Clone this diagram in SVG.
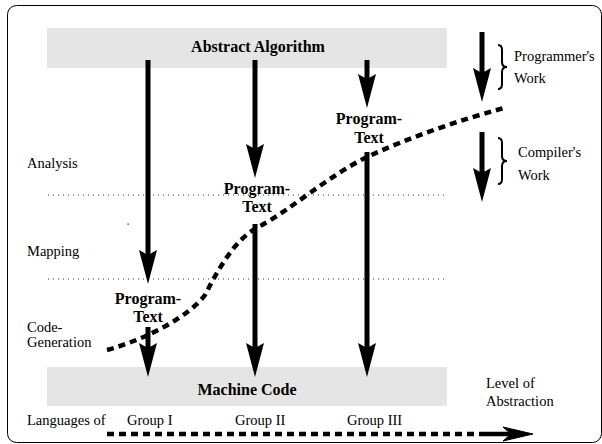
<svg xmlns="http://www.w3.org/2000/svg" width="602" height="444" viewBox="0 0 602 444">
<style>
.lbl{font-family:'Liberation Serif','Times New Roman',Tinos,'DejaVu Serif',serif;font-size:14.5px;fill:#000}
.bold{font-family:'Liberation Serif','Times New Roman',Tinos,'DejaVu Serif',serif;font-size:16px;font-weight:bold;fill:#000;text-anchor:middle}
.shaft{stroke:#000;stroke-width:5;fill:none}
.dots{stroke:#333;stroke-width:1;stroke-dasharray:1 4;fill:none}
.dash{stroke:#000;stroke-width:4.5;stroke-dasharray:7 5;fill:none}
.brace{stroke:#000;stroke-width:2;fill:none}
.box{fill:#e5e5e5}
</style>
<defs>
<marker id="head" viewBox="0 0 34 18" markerWidth="34" markerHeight="18" refX="5" refY="9" orient="auto" markerUnits="userSpaceOnUse">
<path d="M0,0 L34,9 L0,18 L5,9 z" fill="#000"/>
</marker>
</defs>
<rect x="7.5" y="5.5" width="594" height="437" rx="9" ry="9" fill="#fff" stroke="#000" stroke-width="1"/>
<g id="abstract-algorithm">
<rect class="box" x="47" y="28" width="400" height="40"/>
<text class="bold" x="258" y="52">Abstract Algorithm</text>
</g>
<g id="machine-code">
<rect class="box" x="47" y="367" width="400" height="39"/>
<text class="bold" x="247" y="395">Machine Code</text>
</g>
<g id="levels">
<path class="dots" d="M48,195 H445"/>
<path class="dots" d="M48,279 H445"/>
<text class="lbl" x="27" y="168">Analysis</text>
<text class="lbl" x="27" y="256">Mapping</text>
<text class="lbl" x="27" y="332">Code-</text>
<text class="lbl" x="27" y="347">Generation</text>
<rect x="127.5" y="223.5" width="1.2" height="1.2" fill="#000"/>
</g>
<g id="program-text-1">
<text class="bold" x="148" y="304">Program-</text>
<text class="bold" x="148" y="322">Text</text>
</g>
<g id="program-text-2">
<text class="bold" x="257" y="194">Program-</text>
<text class="bold" x="257" y="212">Text</text>
</g>
<g id="program-text-3">
<text class="bold" x="369" y="124">Program-</text>
<text class="bold" x="369" y="143">Text</text>
</g>
<g id="legend">
<path class="brace" d="M498,45 Q502,45 502,50 V62 Q502,67 507,67 Q502,67 502,72 V84 Q502,89 498,89"/>
<path class="brace" d="M498,138 Q502,138 502,143 V156 Q502,161 507,161 Q502,161 502,166 V179 Q502,184 498,184"/>
<text class="lbl" x="514" y="61">Programmer's</text>
<text class="lbl" x="514" y="83">Work</text>
<text class="lbl" x="518" y="157">Compiler's</text>
<text class="lbl" x="518" y="180">Work</text>
<text class="lbl" x="486" y="388">Level of</text>
<text class="lbl" x="486" y="406">Abstraction</text>
</g>
<g id="groups">
<text class="lbl" x="27" y="425">Languages of</text>
<text class="lbl" x="127" y="425">Group I</text>
<text class="lbl" x="235" y="425">Group II</text>
<text class="lbl" x="347" y="425">Group III</text>
</g>
<g id="connectors">
<line class="shaft" x1="148" y1="60" x2="148" y2="255" marker-end="url(#head)"/>
<line class="shaft" x1="148" y1="327" x2="148" y2="348" marker-end="url(#head)"/>
<line class="shaft" x1="255" y1="60" x2="255" y2="149" marker-end="url(#head)"/>
<line class="shaft" x1="255" y1="224" x2="255" y2="348" marker-end="url(#head)"/>
<line class="shaft" x1="367" y1="60" x2="367" y2="79" marker-end="url(#head)"/>
<line class="shaft" x1="367" y1="152" x2="367" y2="348" marker-end="url(#head)"/>
<line class="shaft" x1="482" y1="32" x2="482" y2="73" marker-end="url(#head)"/>
<line class="shaft" x1="482" y1="132" x2="482" y2="173" marker-end="url(#head)"/>
<path class="dash" d="M107,350 C150,338 190,315 205,295 C222,262 238,236 262,225 C290,210 330,175 367,157 C410,137 460,120 504,108"/>
<path class="dash" d="M107,434 H481"/>
<path d="M481,434 H520" stroke="#000" stroke-width="4.5" fill="none"/>
<path d="M503,427 L533,434 L503,441 L511,434 z" fill="#000" stroke="#000" stroke-width="1" stroke-linejoin="round"/>
</g>
</svg>
